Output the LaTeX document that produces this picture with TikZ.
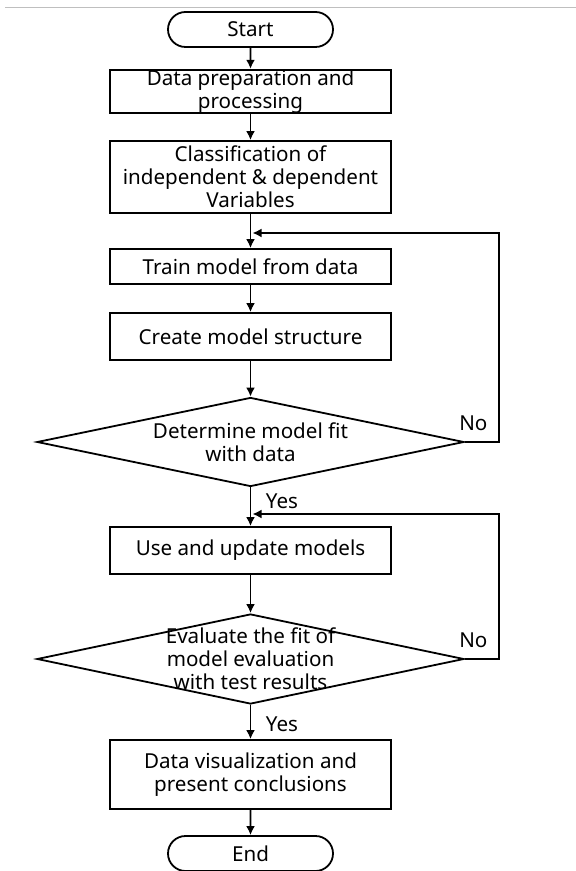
\documentclass[tikz,border=0pt]{standalone}
\usepackage{fontspec}
\setmainfont{Noto Sans}
\usepackage{tikz}
\usetikzlibrary{
	arrows.meta,
	positioning,
	shapes.geometric,
	shapes.misc
}
\newcommand{\fcfont}{\fontsize{10.3}{11.5}\selectfont}
\tikzset{
  % arrow
	fcra/.style       ={-{Latex[length=4.5pt,width=4.5pt]}, line width=.9pt}, % down arrow
  % node
	fcterm/.style     ={draw, rounded rectangle, line width=.9pt, inner sep=0pt, minimum width=82.5pt, minimum height=17.5pt, font=\fcfont},
	fcbox/.style      ={draw, rectangle, line width=.9pt, inner sep=0pt, minimum width=140.5pt, align=center, font=\fcfont},
	fcdecide/.style   ={draw, diamond, line width=.9pt, inner sep=0pt, minimum width=213.5pt, minimum height=44.5pt},
	fctext/.style     ={align=center, inner sep=0pt, font=\fcfont},
	fclbl/.style      ={inner sep=0pt, font=\fcfont}
}

\begin{document}
\begin{tikzpicture}[x=.5pt,y=-.5pt]
			\useasboundingbox (0,0) rectangle (576,871);
			\draw[gray!50] (5,7) -- (576,7);
			% nodes
			\node[fcterm] (start) at (250.5,29.5) {Start};
			\node[fcbox,minimum height=21.5pt] (prep) at (250.5,91.5) {Data preparation and\\processing};
			\node[fcbox,minimum height=36pt] (cls) at (250.5,177) {Classification of\\independent \& dependent\\Variables};
			\node[fcbox,minimum height=17.5pt] (train) at (250.5,266.5) {Train model from data};
			\node[fcbox,minimum height=23.5pt] (create) at (250.5,336.5) {Create model structure};
			\node[fcdecide] (fit) at (250.5,442) {};
			\node[fctext] (fittxt) at (fit) {Determine model fit\\with data};
			\node[fcbox,minimum height=23.5pt] (use) at (250.5,550.5) {Use and update models};
			\node[fcdecide,minimum height=45pt] (eval) at (250.5,659) {};
			\node[fctext] (evaltxt) at (eval) {Evaluate the fit of\\model evaluation\\with test results};
			\node[fcbox,minimum height=34.5pt] (vis) at (250.5,774.5) {Data visualization and\\present conclusions};
			\node[fcterm] (end) at (250.5,853.5) {End};
			\coordinate (j1) at (250.5,233);
			\coordinate (j2) at (250.5,514);
			% arrows
			\draw[fcra] (start) -- (prep);
			\draw[fcra] (prep) -- (cls);
			\draw[fcra] (cls) -- (train);
			\draw[fcra] (train) -- (create);
			\draw[fcra] (create) -- (fit);
			\draw[fcra] (fit) -- (use);
			\draw[fcra] (use) -- (eval);
			\draw[fcra] (eval) -- (vis);
			\draw[fcra] (vis) -- (end);
			\draw[fcra] (fit.east) -- ++(34,0) |- ([xshift=1pt]j1);
			\draw[fcra] (eval.east) -- ++(34,0) |- ([xshift=1pt]j2);
			% labels
			\node[fclbl,anchor=south west] (no1) at ([xshift=-3pt,yshift=5.5pt]fit.east) {No};
			\node[fclbl,anchor=south west] (no2) at ([xshift=-3pt,yshift=5.5pt]eval.east) {No};
			\node[fclbl,anchor=north west] (yes1) at ([xshift=7.5pt,yshift=-3pt]fit.south) {Yes};
			\node[fclbl,anchor=north west] (yes2) at ([xshift=7.5pt,yshift=-5.5pt]eval.south) {Yes};
		\end{tikzpicture}
\end{document}
